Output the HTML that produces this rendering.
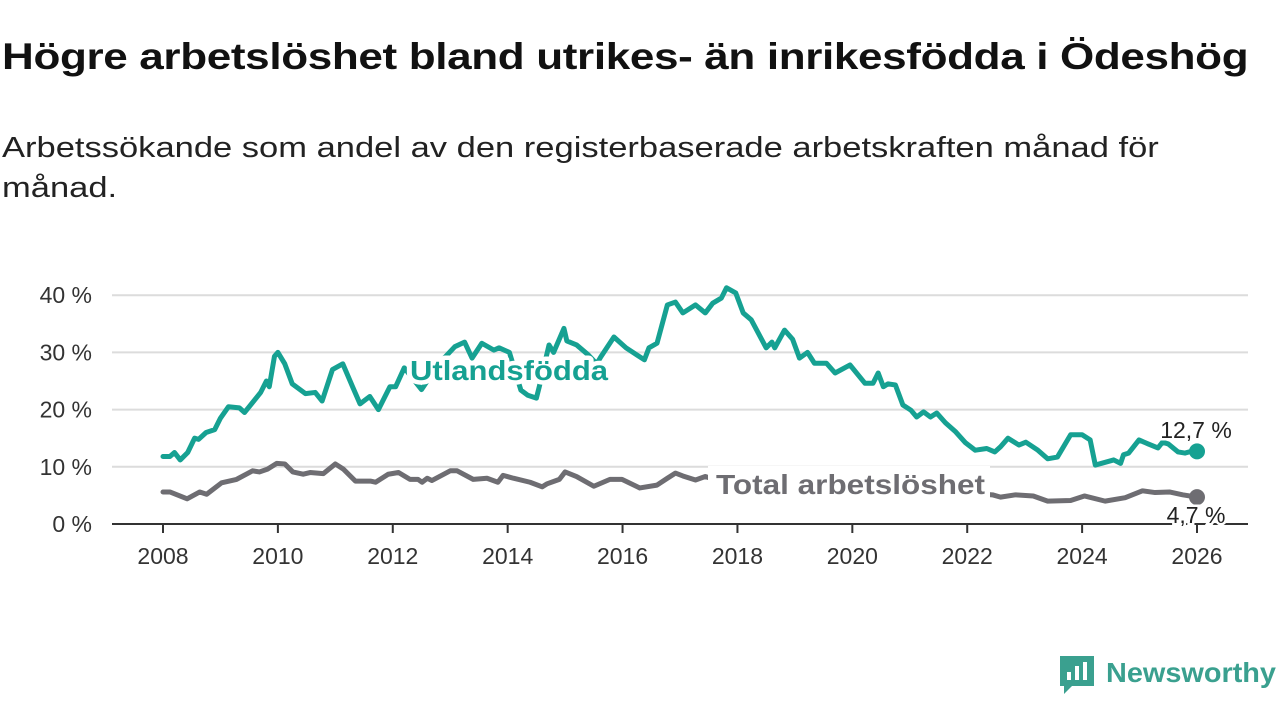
<!DOCTYPE html>
<html><head><meta charset="utf-8">
<style>
body{margin:0;width:1280px;height:720px;background:#fff;overflow:hidden;font-family:"Liberation Sans",sans-serif;}
#title{position:absolute;left:2px;top:36px;font-size:37px;font-weight:bold;color:#111;margin:0;letter-spacing:-0.3px;white-space:nowrap;transform:scaleX(1.19);transform-origin:0 0}
#sub{position:absolute;left:2px;top:128px;font-size:29px;color:#222;line-height:40px;width:1100px;margin:0;white-space:nowrap;transform:scaleX(1.19);transform-origin:0 0}
svg{position:absolute;left:0;top:0}
</style></head><body>
<h1 id="title">Högre arbetslöshet bland utrikes- än inrikesfödda i Ödeshög</h1>
<p id="sub">Arbetssökande som andel av den registerbaserade arbetskraften månad för<br>månad.</p>
<svg id="chart" width="1280" height="720"></svg>
<script>
const yTicks=[0,10,20,30,40];
const yTickLabels=["0 %","10 %","20 %","30 %","40 %"];
const xTicks=[2008,2010,2012,2014,2016,2018,2020,2022,2024,2026];
const utlDates=[2008.0,2008.12,2008.2,2008.3,2008.43,2008.55,2008.62,2008.75,2008.9,2009.0,2009.14,2009.33,2009.42,2009.7,2009.8,2009.85,2009.94,2010.0,2010.12,2010.25,2010.48,2010.65,2010.77,2010.95,2011.13,2011.3,2011.43,2011.6,2011.75,2011.95,2012.05,2012.2,2012.5,2012.8,2013.08,2013.25,2013.38,2013.55,2013.76,2013.85,2014.03,2014.23,2014.35,2014.5,2014.55,2014.72,2014.8,2014.98,2015.03,2015.2,2015.4,2015.55,2015.62,2015.85,2016.06,2016.38,2016.46,2016.6,2016.78,2016.92,2017.05,2017.27,2017.44,2017.57,2017.72,2017.81,2017.97,2018.1,2018.24,2018.5,2018.6,2018.65,2018.82,2018.96,2019.08,2019.22,2019.34,2019.55,2019.7,2019.96,2020.22,2020.36,2020.45,2020.54,2020.62,2020.75,2020.88,2021.02,2021.12,2021.24,2021.36,2021.47,2021.62,2021.8,2021.97,2022.14,2022.34,2022.48,2022.58,2022.71,2022.9,2023.02,2023.23,2023.4,2023.57,2023.8,2024.0,2024.14,2024.23,2024.55,2024.67,2024.72,2024.81,2024.99,2025.15,2025.32,2025.4,2025.5,2025.67,2025.79,2025.9,2026.0];
const utlValues=[11.8,11.8,12.5,11.2,12.5,15,14.8,16,16.5,18.5,20.5,20.3,19.5,23,25,24,29.3,30,28,24.5,22.8,23,21.5,27,28,24,21,22.3,20,24,24,27.3,23.5,28,31,31.8,29,31.6,30.4,30.8,30,23.4,22.5,22,24,31.3,30,34.2,32,31.3,29.6,28,29.2,32.7,30.8,28.7,30.8,31.6,38.3,38.8,36.9,38.3,36.9,38.6,39.5,41.3,40.4,36.9,35.7,30.8,31.8,30.8,33.9,32.3,29,30,28.1,28.1,26.4,27.8,24.6,24.6,26.4,24,24.5,24.3,20.8,19.9,18.7,19.6,18.7,19.4,17.7,16.1,14.2,12.9,13.2,12.6,13.5,15,13.8,14.3,12.9,11.4,11.7,15.6,15.6,14.7,10.3,11.2,10.6,12.1,12.4,14.7,14,13.3,14.3,14,12.6,12.4,12.7];
const totDates=[2008.0,2008.12,2008.42,2008.64,2008.76,2009.02,2009.28,2009.56,2009.68,2009.82,2009.98,2010.12,2010.26,2010.44,2010.56,2010.79,2011.0,2011.14,2011.35,2011.61,2011.7,2011.92,2012.1,2012.3,2012.44,2012.51,2012.6,2012.68,2013.0,2013.12,2013.4,2013.64,2013.83,2013.92,2014.1,2014.39,2014.6,2014.68,2014.9,2015.0,2015.2,2015.5,2015.78,2015.99,2016.3,2016.6,2016.78,2016.92,2017.05,2017.27,2017.44,2017.53,2018.0,2019.0,2020.0,2021.0,2022.0,2022.44,2022.58,2022.84,2023.15,2023.4,2023.8,2024.04,2024.4,2024.75,2025.05,2025.27,2025.52,2025.75,2026.0];
const totValues=[5.6,5.6,4.4,5.6,5.2,7.2,7.8,9.3,9.1,9.6,10.6,10.5,9.1,8.7,9,8.8,10.5,9.6,7.5,7.5,7.3,8.7,9,7.8,7.8,7.3,8,7.6,9.3,9.3,7.8,8,7.3,8.5,8,7.3,6.5,7,7.8,9.1,8.3,6.6,7.8,7.8,6.3,6.8,8,8.9,8.4,7.7,8.3,8,7.5,6.8,6.5,6.2,5.4,5.1,4.7,5.1,4.9,4,4.1,4.9,4,4.6,5.8,5.5,5.6,5.1,4.7];
const utlLast="12,7 %", totLast="4,7 %";
const NS="http://www.w3.org/2000/svg";
const svg=document.getElementById('chart');
const X0=112,X1=1248,Y0=524;
const xs=t=>163+(t-2008)*(1197-163)/18;
const ys=v=>Y0-v*5.72;
function mk(tag,attrs,parent){const e=document.createElementNS(NS,tag);for(const k in attrs)e.setAttribute(k,attrs[k]);(parent||svg).appendChild(e);return e;}
yTicks.forEach((v,i)=>{
 if(v>0){const g=mk('line',{x1:X0,x2:X1,y1:ys(v),y2:ys(v),stroke:'#dcdcdc','stroke-width':2});
 
 }
 const t=mk('text',{x:92,y:ys(v)+8,'text-anchor':'end','font-size':23,fill:'#333'});
 t.textContent=yTickLabels[i];
 
 
});
const ax=mk('line',{x1:X0,x2:X1,y1:Y0,y2:Y0,stroke:'#333','stroke-width':2});


xTicks.forEach(y=>{
 const tk=mk('line',{x1:xs(y),x2:xs(y),y1:Y0,y2:Y0+9,stroke:'#333','stroke-width':2});
 
 
 const t=mk('text',{x:xs(y),y:564,'text-anchor':'middle','font-size':23,fill:'#333'});
 t.textContent=y;
 
 
});
function line(d,v,col,name){
 const p=mk('polyline',{points:d.map((t,i)=>xs(t)+','+ys(v[i])).join(' '),fill:'none',stroke:col,'stroke-width':5,'stroke-linejoin':'round','stroke-linecap':'round'});
 
 
}
const TEAL='#16a192',GRAY='#6e6d72';
line(totDates,totValues,GRAY,'total-line');
line(utlDates,utlValues,TEAL,'utlandsfodda-line');
const bg=mk('rect',{x:708,y:466,width:282,height:34,fill:'#fff'});


const l1=mk('text',{x:410,y:380,'font-size':28,'font-weight':'bold',fill:TEAL,stroke:'#fff','stroke-width':9,'paint-order':'stroke','stroke-linejoin':'round',textLength:198,lengthAdjust:'spacingAndGlyphs'});
l1.textContent='Utlandsfödda';


const l2=mk('text',{x:716,y:494,'font-size':28,'font-weight':'bold',fill:GRAY,textLength:269,lengthAdjust:'spacingAndGlyphs'});
l2.textContent='Total arbetslöshet';


const c1=mk('circle',{cx:xs(utlDates[utlDates.length-1]),cy:ys(utlValues[utlValues.length-1]),r:8,fill:TEAL});


const c2=mk('circle',{cx:xs(totDates[totDates.length-1]),cy:ys(totValues[totValues.length-1]),r:8,fill:GRAY});


const v1=mk('text',{x:1196,y:438,'text-anchor':'middle','font-size':23,fill:'#222',stroke:'#fff','stroke-width':5,'paint-order':'stroke'});
v1.textContent=utlLast;


const v2=mk('text',{x:1196,y:523,'text-anchor':'middle','font-size':23,fill:'#222',stroke:'#fff','stroke-width':5,'paint-order':'stroke'});
v2.textContent=totLast;


const lg=mk('g',{});


mk('path',{d:'M1060 656 h34 v30 h-22 l-8 8 v-8 h-4 z',fill:'#3aa08f'},lg);
mk('rect',{x:1067,y:672,width:4,height:8,fill:'#fff'},lg);
mk('rect',{x:1075,y:666,width:4,height:14,fill:'#fff'},lg);
mk('rect',{x:1083,y:662,width:4,height:18,fill:'#fff'},lg);
const lt=mk('text',{x:1106,y:682,'font-size':28,'font-weight':'bold',fill:'#3aa08f',textLength:170,lengthAdjust:'spacingAndGlyphs'},lg);
lt.textContent='Newsworthy';
</script>
</body></html>
